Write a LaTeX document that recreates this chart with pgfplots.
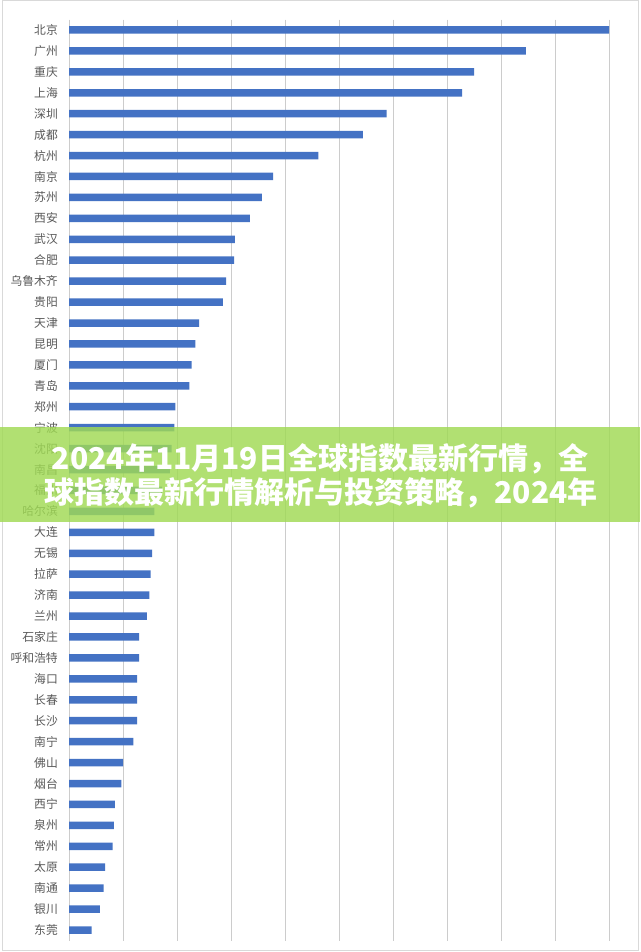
\documentclass[border=0pt]{standalone}
\usepackage{fontspec}
\usepackage{pgfplots}
\pgfplotsset{compat=1.18}
\usepackage{pgfplotstable}
\newfontfamily\cjk{Noto Sans CJK SC}
\definecolor{barblue}{RGB}{68,114,196}
\definecolor{bannergreen}{RGB}{160,218,84}
\pgfplotstableread{
idx val
0 10.00
1 8.46
2 7.50
3 7.28
4 5.88
5 5.44
6 4.62
7 3.78
8 3.57
9 3.35
10 3.07
11 3.06
12 2.91
13 2.85
14 2.41
15 2.34
16 2.27
17 2.23
18 1.97
19 1.95
20 1.90
21 1.87
22 1.72
23 1.58
24 1.58
25 1.54
26 1.51
27 1.49
28 1.44
29 1.30
30 1.30
31 1.26
32 1.26
33 1.26
34 1.19
35 1.00
36 0.97
37 0.85
38 0.83
39 0.81
40 0.67
41 0.64
42 0.57
43 0.42
}\citydata
\begin{document}
\begin{tikzpicture}[x=1pt,y=1pt]
\path[use as bounding box] (0,0) rectangle (640,952);
\fill[white] (0,0) rectangle (640,952);
\draw[black!15, line width=1pt] (2,1) rectangle (638,951);
\begin{axis}[
  at={(69pt,11.5pt)}, anchor=south west,
  scale only axis, width=540pt, height=921pt,
  xbar, bar width=7.5pt,
  xmin=0, xmax=10, ymin=-0.5, ymax=43.5, y dir=reverse,
  xtick={0,1,...,10}, xticklabels={},
  ytick={0,1,...,43},
  yticklabels={北京,广州,重庆,上海,深圳,成都,杭州,南京,苏州,西安,武汉,合肥,乌鲁木齐,贵阳,天津,昆明,厦门,青岛,郑州,宁波,沈阳,南昌,福州,哈尔滨,大连,无锡,拉萨,济南,兰州,石家庄,呼和浩特,海口,长春,长沙,南宁,佛山,烟台,西宁,泉州,常州,太原,南通,银川,东莞},
  xmajorgrids, grid style={color=black!20, line width=1pt},
  axis line style={draw=none}, major tick length=0pt,
  yticklabel style={font=\cjk\fontsize{11.8}{12}\selectfont, text=black!65, anchor=east, inner sep=0pt, xshift=-11pt},
]
\addplot[fill=barblue, draw=none] table[x=val,y=idx]{\citydata};
\end{axis}
\fill[bannergreen, opacity=0.82] (0,430) rectangle (640,525);
\node[text=white, font=\cjk\bfseries\fontsize{30}{30}\selectfont, inner sep=0pt] at (320,493) {2024年11月19日全球指数最新行情，全};
\node[text=white, font=\cjk\bfseries\fontsize{30}{30}\selectfont, inner sep=0pt] at (321,459) {球指数最新行情解析与投资策略，2024年};
\end{tikzpicture}
\end{document}
